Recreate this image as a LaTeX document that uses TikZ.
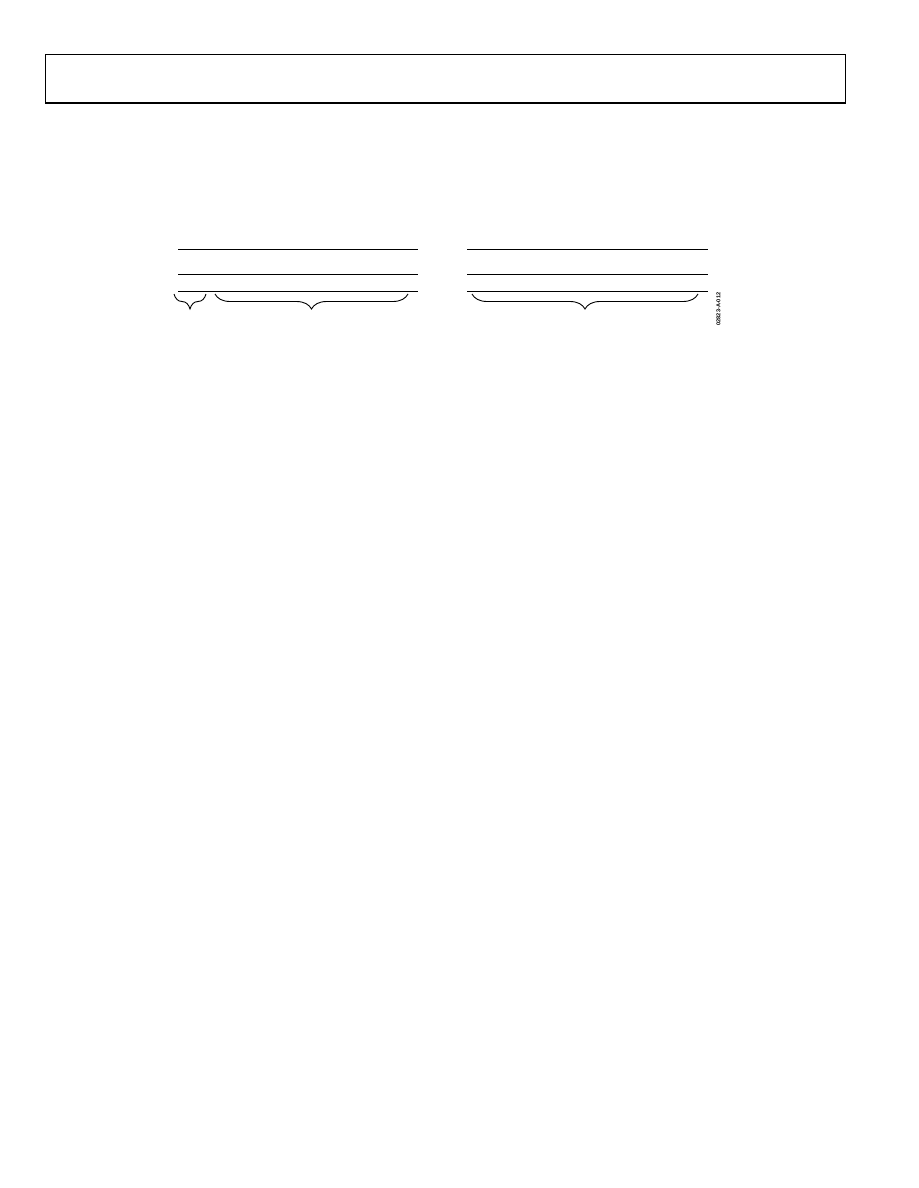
\documentclass[tikz,border=0pt]{standalone}
\usepackage{fontspec}
\setmainfont{Liberation Sans}
\usetikzlibrary{decorations.pathreplacing}
\begin{document}
\begin{tikzpicture}[x=1pt,y=-1pt,
  rule/.style={line width=1pt},
  bracedeco/.style={decorate,decoration={brace,mirror,amplitude=15pt,raise=0pt},line width=0.9pt},
  figid/.style={font=\bfseries\fontsize{5.6}{6}\selectfont,rotate=90,inner sep=0pt}]
\useasboundingbox (0,0) rectangle (918,1188);
% header box
\draw[line width=1pt] (45.5,104) -- (45.5,54.5) -- (845.5,54.5) -- (845.5,104);
\draw[line width=2pt] (45,103.5) -- (846,103.5);
% left group
\coordinate (L1a) at (178,249.3); \coordinate (L1b) at (418,249.3);
\coordinate (L2a) at (178,274.3); \coordinate (L2b) at (418,274.3);
\coordinate (L3a) at (178,291.3); \coordinate (L3b) at (418,291.3);
\draw[rule] (L1a) -- (L1b);
\draw[rule] (L2a) -- (L2b);
\draw[rule] (L3a) -- (L3b);
% right group
\coordinate (R1a) at (467,249.3); \coordinate (R1b) at (708,249.3);
\coordinate (R2a) at (467,274.3); \coordinate (R2b) at (708,274.3);
\coordinate (R3a) at (467,291.3); \coordinate (R3b) at (708,291.3);
\draw[rule] (R1a) -- (R1b);
\draw[rule] (R2a) -- (R2b);
\draw[rule] (R3a) -- (R3b);
% braces
\coordinate (B1a) at (174,294); \coordinate (B1b) at (206,294);
\coordinate (B2a) at (215,294); \coordinate (B2b) at (408,294);
\coordinate (B3a) at (472,294); \coordinate (B3b) at (698,294);
\draw[bracedeco] (B1a) -- (B1b);
\draw[bracedeco] (B2a) -- (B2b);
\draw[bracedeco] (B3a) -- (B3b);
% figure id
\node[figid] (fid) at (718.5,309) {02823-A-012};
\end{tikzpicture}
\end{document}
